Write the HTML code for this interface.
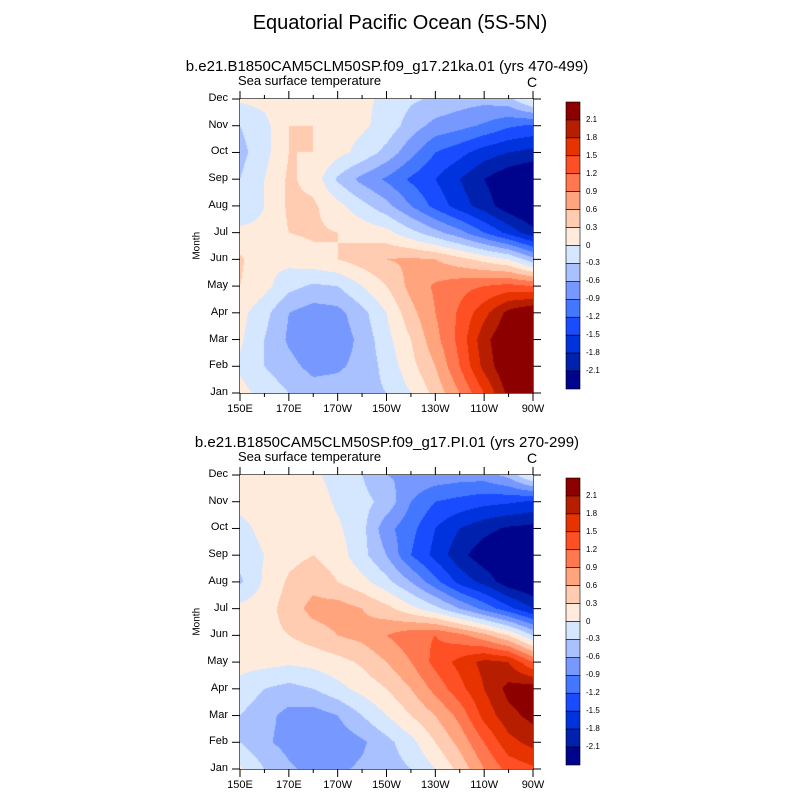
<!DOCTYPE html>
<html><head><meta charset="utf-8"><style>
html,body{margin:0;background:#fff;width:800px;height:800px;overflow:hidden}
#wrap{position:relative;width:800px;height:800px;font-family:"Liberation Sans",sans-serif;color:#000;overflow:hidden}
.t{position:absolute;white-space:nowrap;line-height:1.15}
canvas{position:absolute}
</style></head><body>
<div id="wrap">
<div class="t" style="left:0;width:800px;text-align:center;top:12px;font-size:20px">Equatorial Pacific Ocean (5S-5N)</div>
<svg id="svg" width="800" height="800" style="position:absolute;left:0;top:0"></svg>
</div>
<script>
const months = ['Jan','Feb','Mar','Apr','May','Jun','Jul','Aug','Sep','Oct','Nov','Dec'];
const lons = [150,160,170,180,190,200,210,220,230,240,250,260,270];
const xTickLabels = ['150E','170E','170W','150W','130W','110W','90W'];
const levels = [-2.1,-1.8,-1.5,-1.2,-0.9,-0.6,-0.3,0,0.3,0.6,0.9,1.2,1.5,1.8,2.1];
const cbLabels = ['2.1','1.8','1.5','1.2','0.9','0.6','0.3','0','-0.3','-0.6','-0.9','-1.2','-1.5','-1.8','-2.1'];
const colors = ['#00048c','#0021ad','#0033dd','#1a4cff','#4477ff','#7799ff','#a9c1ff','#d5e6ff','#ffebdc','#ffcbb1','#ffa47d','#ff7850','#ff4f24','#e63300','#b71e00','#8c0000'];
const sst1 = [
 [0.1,-0.1,-0.3,-0.45,-0.45,-0.4,-0.3,0.0,0.4,0.9,1.5,2.2,2.45],
 [-0.05,-0.3,-0.5,-0.7,-0.65,-0.5,-0.2,0.2,0.6,1.2,1.9,2.4,2.55],
 [0.05,-0.3,-0.65,-0.85,-0.8,-0.5,-0.1,0.3,0.8,1.3,2.0,2.4,2.55],
 [0.1,-0.2,-0.6,-0.75,-0.7,-0.4,0.0,0.5,0.9,1.25,1.7,2.2,2.45],
 [0.3,0.1,-0.2,-0.35,-0.3,0.0,0.3,0.7,0.95,1.1,1.2,1.3,1.2],
 [0.35,0.05,0.1,0.2,0.3,0.45,0.6,0.65,0.6,0.4,0.2,0.0,-0.5],
 [0.1,0.1,0.3,0.35,0.3,0.2,0.1,-0.2,-0.5,-0.8,-1.2,-1.6,-2.0],
 [-0.3,0.0,0.35,0.35,0.1,-0.2,-0.5,-0.9,-1.3,-1.65,-1.95,-2.3,-2.5],
 [-0.3,0.0,0.35,0.2,-0.35,-0.7,-0.95,-1.25,-1.5,-1.8,-2.1,-2.35,-2.5],
 [-0.4,-0.1,0.3,0.3,0.1,-0.1,-0.4,-0.8,-1.2,-1.4,-1.65,-1.8,-1.9],
 [-0.3,-0.1,0.3,0.3,0.1,0.05,-0.1,-0.45,-0.7,-0.8,-0.95,-1.15,-1.25],
 [0.05,0.1,0.25,0.3,0.1,0.05,-0.05,-0.25,-0.35,-0.45,-0.5,-0.4,0.1]
];
const sst2 = [
 [0.05,-0.3,-0.55,-0.7,-0.65,-0.55,-0.45,-0.3,0.0,0.4,0.9,1.3,1.45],
 [-0.3,-0.55,-0.7,-0.85,-0.8,-0.65,-0.4,-0.1,0.3,0.7,1.2,1.7,1.9],
 [-0.3,-0.5,-0.7,-0.75,-0.6,-0.3,0.0,0.3,0.6,1.0,1.6,2.0,2.2],
 [-0.1,-0.3,-0.4,-0.3,-0.1,0.1,0.3,0.6,1.0,1.4,1.8,2.2,2.3],
 [0.1,0.1,0.05,0.1,0.2,0.35,0.6,0.9,1.3,1.6,1.9,1.8,1.2],
 [0.3,0.2,0.3,0.45,0.6,0.7,0.9,1.1,1.2,1.0,0.7,0.3,-0.3],
 [0.1,0.15,0.45,0.7,0.75,0.6,0.4,0.1,-0.2,-0.6,-1.0,-1.4,-1.8],
 [-0.35,0.05,0.35,0.5,0.3,0.1,-0.2,-0.6,-1.1,-1.6,-1.9,-2.3,-2.45],
 [-0.2,0.0,0.2,0.3,0.15,-0.2,-0.6,-1.2,-1.6,-2.0,-2.3,-2.45,-2.4],
 [-0.1,0.1,0.2,0.2,0.05,-0.2,-0.8,-1.1,-1.5,-1.8,-2.0,-2.15,-2.2],
 [0.1,0.15,0.2,0.15,-0.05,-0.2,-0.4,-0.9,-1.2,-1.3,-1.4,-1.45,-1.55],
 [0.1,0.1,0.1,0.05,-0.1,-0.3,-0.6,-0.65,-0.7,-0.75,-0.75,-0.5,0.1]
];
const wrap = document.getElementById('wrap');
const svg = document.getElementById('svg');
const NS = 'http://www.w3.org/2000/svg';
function line(x1,y1,x2,y2,name){const l=document.createElementNS(NS,'line');l.setAttribute('x1',x1);l.setAttribute('y1',y1);l.setAttribute('x2',x2);l.setAttribute('y2',y2);l.setAttribute('stroke','#000');l.setAttribute('stroke-width','1');


svg.appendChild(l);return l;}
function txt(x,y,s,size,anchor,name,extra){const d=document.createElement('div');d.className='t';d.textContent=s;d.style.fontSize=size+'px';d.style.top=y+'px';
if(anchor==='c'){d.style.left=(x-300)+'px';d.style.width='600px';d.style.textAlign='center';}else if(anchor==='r'){d.style.left=(x-100)+'px';d.style.width='100px';d.style.textAlign='right';}else d.style.left=x+'px';
if(extra)Object.assign(d.style,extra);


wrap.appendChild(d);return d;}
function hex(c){return [parseInt(c.slice(1,3),16),parseInt(c.slice(3,5),16),parseInt(c.slice(5,7),16)];}
function panel(data,top,subtitle,idx){
 const L=240,R=533,T=top,B=top+294;
 const xs=lon=>L+(lon-150)/120*(R-L);
 const ys=m=>B-m/11*(B-T);
 txt(387,T-41,subtitle,15,'c','panel'+idx+'-subtitle');
 txt(L-2,T-25,'Sea surface temperature',13,'l','panel'+idx+'-variable-label');
 txt(R-6,T-25,'C',14,'l','panel'+idx+'-units-label');
 const cv=document.createElement('canvas');cv.width=R-L;cv.height=B-T;cv.style.left=L+'px';cv.style.top=T+'px';
 
 
 wrap.appendChild(cv);
 const ctx=cv.getContext('2d');const img=ctx.createImageData(cv.width,cv.height);
 const rgb=colors.map(hex);
 for(let py=0;py<cv.height;py++){const m=(B-(T+py+0.5))/(B-T)*11;let j=Math.min(10,Math.max(0,Math.floor(m)));const fy=Math.min(1,Math.max(0,m-j));
  for(let px=0;px<cv.width;px++){const lon=150+(px+0.5)/cv.width*120;const li=(lon-150)/10;let i=Math.min(11,Math.max(0,Math.floor(li)));const fx=Math.min(1,Math.max(0,li-i));
   const v=(data[j][i]*(1-fx)+data[j][i+1]*fx)*(1-fy)+(data[j+1][i]*(1-fx)+data[j+1][i+1]*fx)*fy;
   let k=0;while(k<levels.length&&v>=levels[k])k++;const c=rgb[k];const o=(py*cv.width+px)*4;img.data[o]=c[0];img.data[o+1]=c[1];img.data[o+2]=c[2];img.data[o+3]=255;}}
 ctx.putImageData(img,0,0);
 const r=document.createElementNS(NS,'rect');r.setAttribute('x',L);r.setAttribute('y',T);r.setAttribute('width',R-L);r.setAttribute('height',B-T);r.setAttribute('fill','none');r.setAttribute('stroke','#000');r.setAttribute('stroke-width','1.2');
 
 
 svg.appendChild(r);
 for(let lon=150;lon<=270;lon+=10){const x=xs(lon);const major=(lon-150)%20===0;const len=major?8:4;
  line(x,B,x,B+len,'panel'+idx+'-x-tick');line(x,T,x,T-len,'panel'+idx+'-x-tick-top');}
 xTickLabels.forEach((s,i)=>txt(xs(150+i*20),B+10,s,11,'c','panel'+idx+'-x-tick-label'));
 months.forEach((s,m)=>{const y=ys(m);line(L-8,y,L,y,'panel'+idx+'-y-tick');line(R,y,R+8,y,'panel'+idx+'-y-tick-right');txt(L-12,y-7,s,11,'r','panel'+idx+'-y-tick-label');});
 const mt=txt(197,(T+B)/2-6,'Month',10,'l','panel'+idx+'-y-axis-title',{transform:'translate(-50%,0) rotate(-90deg)'});
 const cT=top+3,cH=287,cx=566,cw=14,bh=cH/16;
 for(let k=0;k<16;k++){const b=document.createElementNS(NS,'rect');b.setAttribute('x',cx);b.setAttribute('y',cT+k*bh);b.setAttribute('width',cw);b.setAttribute('height',bh);b.setAttribute('fill',colors[15-k]);b.setAttribute('stroke','#000');b.setAttribute('stroke-width','0.6');
  
  
  svg.appendChild(b);}
 cbLabels.forEach((s,k)=>txt(586,cT+(k+1)*bh-5,s,8,'l','panel'+idx+'-colorbar-label'));
}
panel(sst1,99,'b.e21.B1850CAM5CLM50SP.f09_g17.21ka.01 (yrs 470-499)',1);
panel(sst2,475,'b.e21.B1850CAM5CLM50SP.f09_g17.PI.01 (yrs 270-299)',2);
</script>
</body></html>
